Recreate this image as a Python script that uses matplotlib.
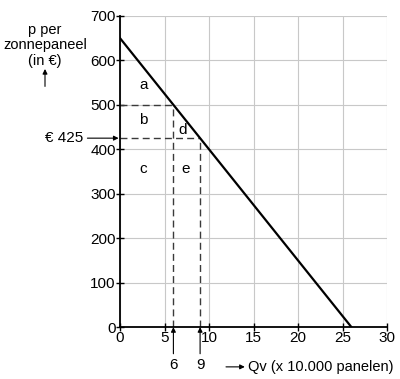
import matplotlib
matplotlib.use("Agg")
import matplotlib.pyplot as plt

plt.rcParams['font.family'] = ['Liberation Sans', 'DejaVu Sans']

# demand line p = 650 - 25 Q
q_line = [0, 26]
p_line = [650, 0]

q_marks = [6, 9]
p_marks = [500, 425]

area_labels = ["a", "b", "c", "d", "e"]
area_q = [2.6, 2.6, 2.6, 7.0, 7.4]
area_p = [545, 465, 355, 443, 355]

fig = plt.figure(figsize=(4, 3.79), dpi=100)
ax = fig.add_axes([0.30, 0.137, 0.6675, 0.821])

ax.set_xlim(0, 30)
ax.set_ylim(0, 700)
ax.set_xticks(range(0, 31, 5))
ax.set_yticks(range(0, 701, 100))
ax.grid(True, color="#c8c8c8", linewidth=0.8)
ax.set_axisbelow(True)
for s in ["top", "right"]:
    ax.spines[s].set_visible(False)
for s in ["left", "bottom"]:
    ax.spines[s].set_linewidth(1.3)
ax.tick_params(direction="inout", length=6, width=1, labelsize=11, pad=0)

ax.plot(q_line, p_line, color="black", linewidth=1.6, zorder=3)

# dashed guide lines
for q, p in zip(q_marks, p_marks):
    ax.plot([0, q], [p, p], color="#3a3a3a", linestyle=(0, (5, 3)), linewidth=1.0)
    ax.plot([q, q], [0, p], color="#3a3a3a", linestyle=(0, (5, 3)), linewidth=1.0)

for lab, q, p in zip(area_labels, area_q, area_p):
    ax.text(q, p, lab, fontsize=11, ha="center", va="center")

# € 425 arrow
ax.annotate("€ 425", xy=(0, 425), xytext=(-54, 425), textcoords=("offset points", "data"),
            fontsize=11, ha="left", va="center", annotation_clip=False,
            arrowprops=dict(arrowstyle="-|>", color="black", lw=0.8, mutation_scale=7,
                            shrinkA=1, shrinkB=1))

# arrows under x axis at 6 and 9
for q in q_marks:
    ax.annotate("", xy=(q, 0), xytext=(q, -60), annotation_clip=False,
                arrowprops=dict(arrowstyle="-|>", color="black", lw=0.8, mutation_scale=7,
                                shrinkA=0, shrinkB=0))
    ax.text(q, -85, str(q), fontsize=11, ha="center", va="center", clip_on=False)

# axis titles
fig.text(0.985, 0.032, "Qv (x 10.000 panelen)", fontsize=10.5, ha="right", va="center")
ax.annotate("", xy=(0.612, 0.032), xytext=(0.565, 0.032), xycoords="figure fraction",
            textcoords="figure fraction",
            arrowprops=dict(arrowstyle="-|>", color="black", lw=0.8, mutation_scale=7,
                            shrinkA=0, shrinkB=0))

fig.text(0.1125, 0.88, "p per\nzonnepaneel\n(in €)", fontsize=10.5, ha="center", va="center",
         linespacing=1.15)
ax.annotate("", xy=(0.1125, 0.818), xytext=(0.1125, 0.772), xycoords="figure fraction",
            textcoords="figure fraction",
            arrowprops=dict(arrowstyle="-|>", color="black", lw=0.8, mutation_scale=7,
                            shrinkA=0, shrinkB=0))

fig.savefig("out.png", dpi=100)
